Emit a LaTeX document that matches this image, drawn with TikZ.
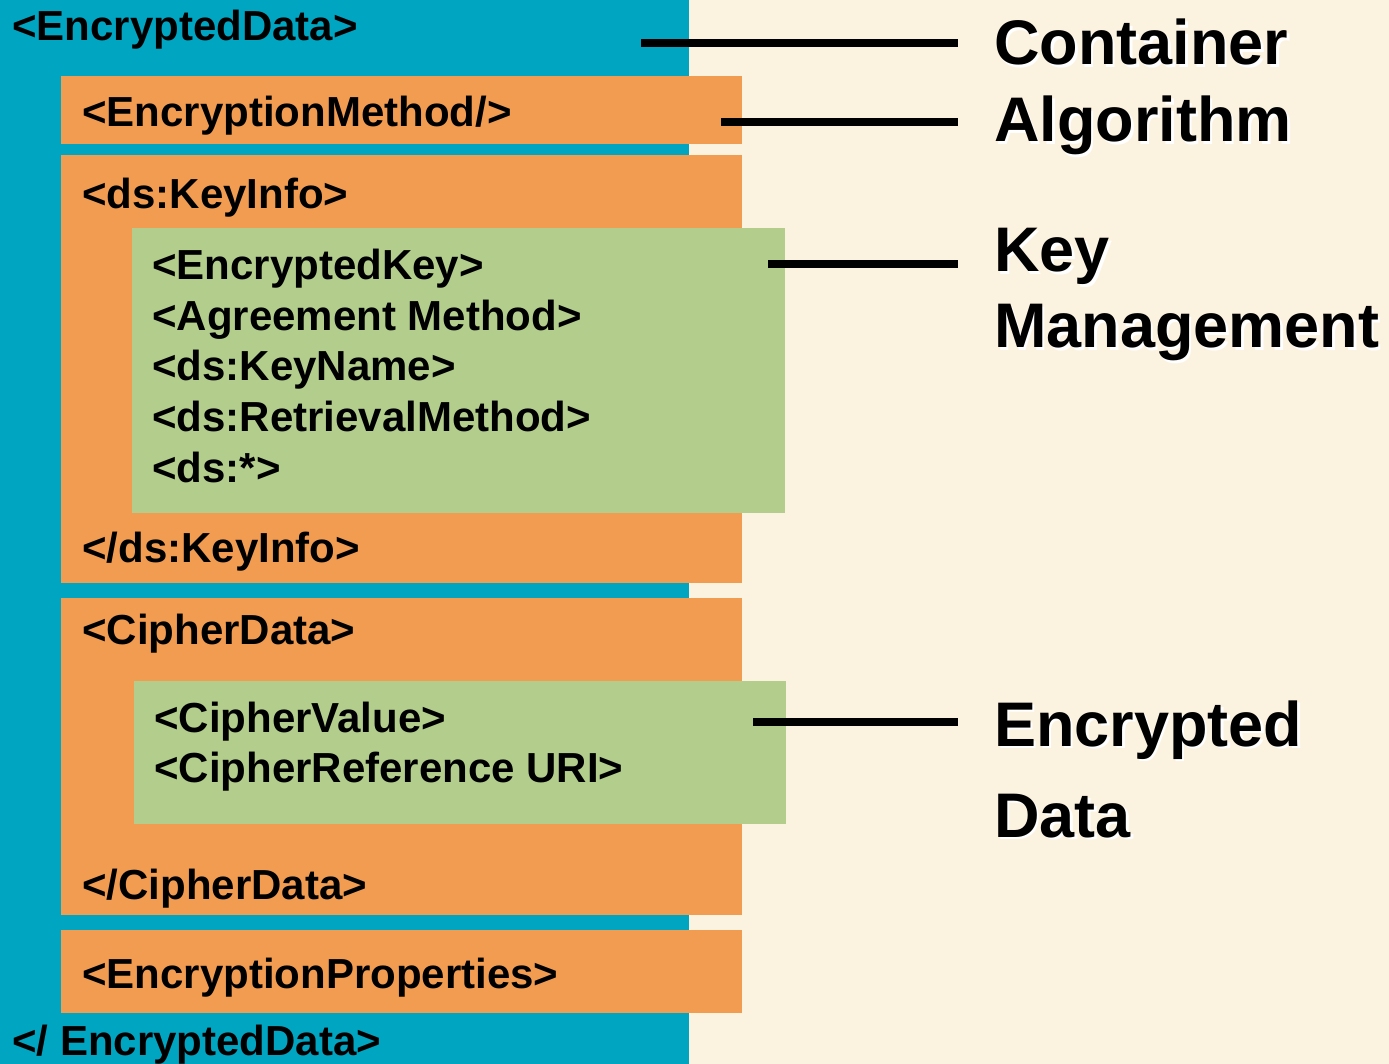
\documentclass[tikz,border=0pt]{standalone}
\usepackage{fontspec}
\setmainfont{Liberation Sans}
\definecolor{paper}{RGB}{252,242,224}
\definecolor{teal}{RGB}{0,165,194}
\definecolor{tagorange}{RGB}{242,156,82}
\definecolor{taggreen}{RGB}{178,205,140}
\tikzset{
  tag/.style={anchor=base west, inner sep=0pt, font=\bfseries\fontsize{42}{50}\selectfont},
  caption/.style={anchor=base west, inner sep=0pt, font=\bfseries\fontsize{63}{70}\selectfont},
  leader/.style={line width=7.5pt, black},
}
% caption text with a light drop shadow
\newcommand{\shadowcap}[4]{%
  \node[caption, text=white] at (#2+2.5,#3+2.5) {#4};
  \node[caption] (#1) at (#2,#3) {#4};
}
\begin{document}
\begin{tikzpicture}[x=1pt,y=-1pt]
\useasboundingbox (0,0) rectangle (1389,1064);
\fill[paper] (0,0) rectangle (1389,1064);

% EncryptedData container
\fill[teal] (0,0) rectangle (689,1064);

% child elements
\fill[tagorange] (61,76)  rectangle (742,144);
\fill[tagorange] (61,155) rectangle (742,583);
\fill[tagorange] (61,598) rectangle (742,915);
\fill[tagorange] (61,930) rectangle (742,1013);

% nested content blocks
\fill[taggreen] (132,228) rectangle (785,513);
\fill[taggreen] (134,681) rectangle (786,824);

% element tags
\node[tag] (edOpen)  at (12,41)   {<EncryptedData>};
\node[tag] (emeth)   at (82,127)  {<EncryptionMethod/>};
\node[tag] (kiOpen)  at (82,209)  {<ds:KeyInfo>};
\node[tag] (ekey)    at (152,280) {<EncryptedKey>};
\node[tag] (agree)   at (152,330.5) {<Agreement Method>};
\node[tag] (kname)   at (152,381) {<ds:KeyName>};
\node[tag] (retr)    at (152,431.5) {<ds:RetrievalMethod>};
\node[tag] (dsany)   at (152,482) {<ds:*>};
\node[tag] (kiClose) at (82,562)  {</ds:KeyInfo>};
\node[tag] (cdOpen)  at (82,644)  {<CipherData>};
\node[tag] (cval)    at (154,732) {<CipherValue>};
\node[tag] (cref)    at (154,782) {<CipherReference URI>};
\node[tag] (cdClose) at (82,899)  {</CipherData>};
\node[tag] (eprop)   at (82,988)  {<EncryptionProperties>};
\node[tag] (edClose) at (12,1055) {</ EncryptedData>};

% captions
\shadowcap{capContainer}{994}{65}{Container}
\shadowcap{capAlgorithm}{994}{142}{Algorithm}
\shadowcap{capKey}{994}{272}{Key}
\shadowcap{capMgmt}{994}{348}{Management}
\shadowcap{capEnc}{994}{746}{Encrypted}
\shadowcap{capData}{994}{837}{Data}

% leader lines
\coordinate (lContainer) at (641,43);
\coordinate (lAlgorithm) at (721,122);
\coordinate (lKey)       at (768,264);
\coordinate (lData)      at (753,722);
\coordinate (rContainer) at (958,43);
\coordinate (rAlgorithm) at (958,122);
\coordinate (rKey)       at (958,264);
\coordinate (rData)      at (958,722);
\draw[leader] (lContainer) -- (rContainer);
\draw[leader] (lAlgorithm) -- (rAlgorithm);
\draw[leader] (lKey) -- (rKey);
\draw[leader] (lData) -- (rData);
\end{tikzpicture}
\end{document}
